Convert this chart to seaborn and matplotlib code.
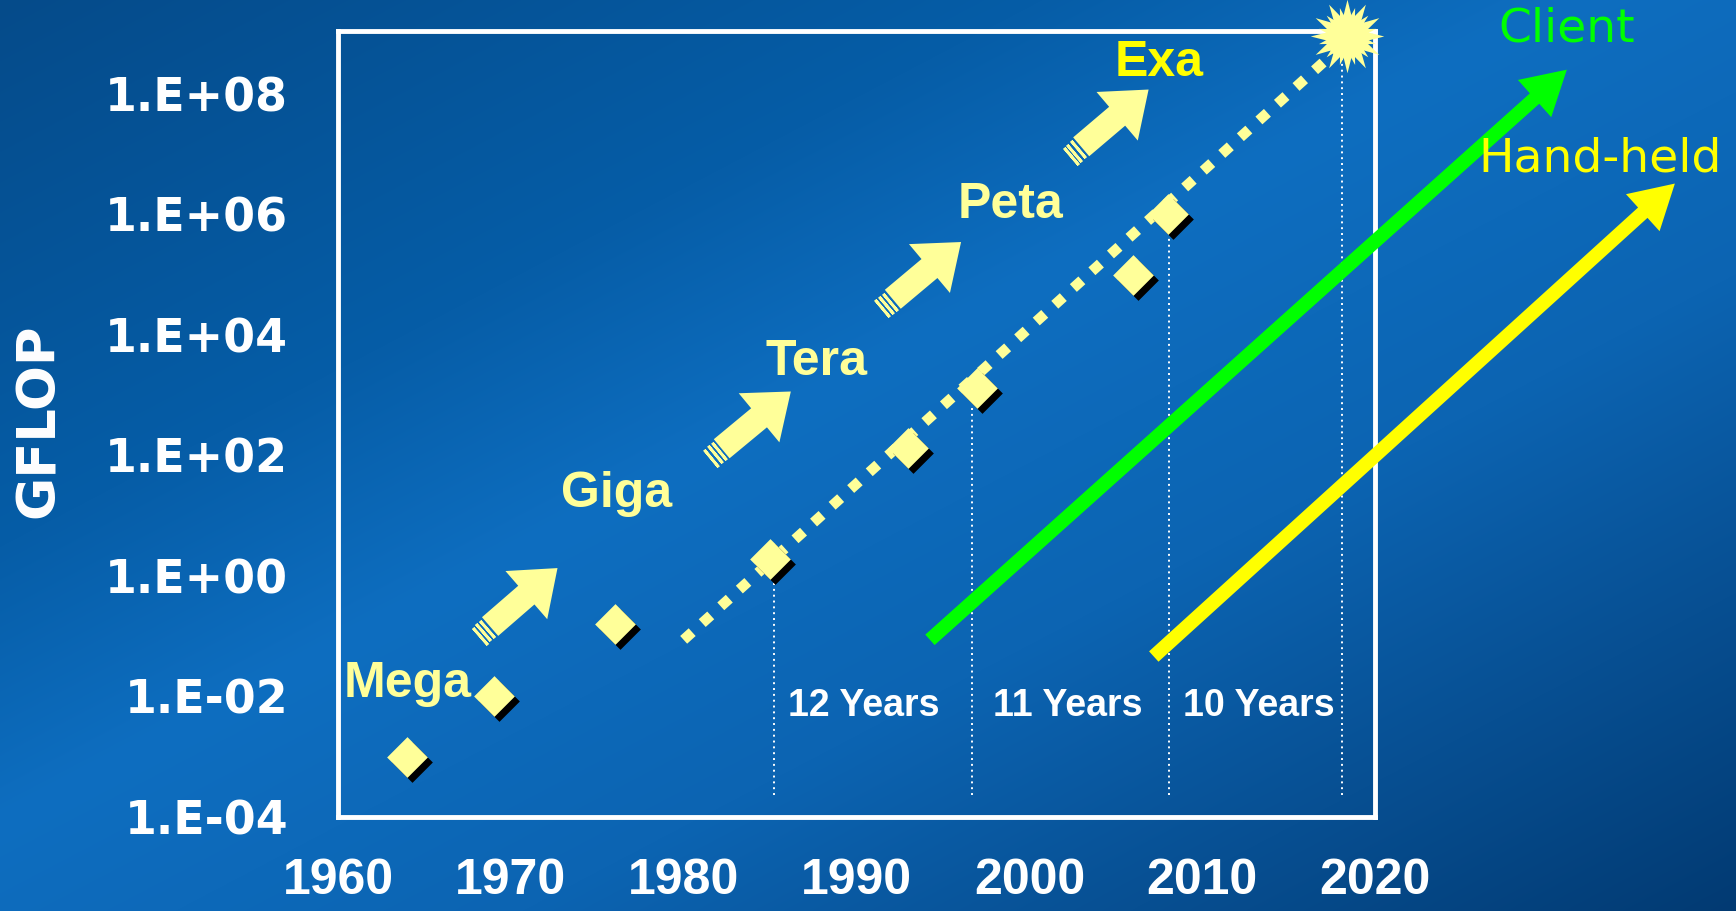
import numpy as np
import matplotlib
matplotlib.use('Agg')
import matplotlib.pyplot as plt
import matplotlib.transforms as mtransforms
import seaborn as sns

# data
years = [1964, 1969, 1976, 1985, 1993, 1997, 2006, 2008]
gflop = [1e-3, 1e-2, 0.16, 1.9, 135, 1300, 1e5, 1e6]

star_year = [2018.4]
star_gflop = [9e8]

trend_years = [1980.0, 2018.0]
trend_gflop = [0.087, 6e8]

era_names = ['Mega', 'Giga', 'Tera', 'Peta', 'Exa']
era_x = [1964.0, 1976.1, 1987.7, 1998.9, 2007.5]
era_y = [0.016, 23.0, 3600, 1.4e6, 3.2e8]
era_colors = ['#FFFF99', '#FFFF99', '#FFFF99', '#FFFF99', '#FFFF00']

# fat arrows between the era names (tail -> tip)
fat_x0 = [1968.8, 1982.2, 1992.1, 2003.0]
fat_y0 = [10**-0.84, 10**2.11, 10**4.59, 10**7.12]
fat_x1 = [1972.7, 1986.2, 1996.05, 2006.9]
fat_y1 = [10**0.13, 10**3.06, 10**5.54, 10**8.07]

gap_years = [1985.2, 1996.7, 2008.1, 2018.1]
gap_tops = [10**0.09, 10**2.84, 10**5.78, 10**8.72]
gap_bottom = 10**-3.63
gap_labels = ['12 Years', '11 Years', '10 Years']
gap_label_x = [1990.4, 2002.2, 2013.3]
gap_label_y = 10**-2.15

client_line = ([1994.25, 2031.1], [0.087, 10**8.40])
handheld_line = ([2007.2, 2037.35], [0.046, 10**6.51])

xticks = [1960, 1970, 1980, 1990, 2000, 2010, 2020]
yticks = [1e-4, 1e-2, 1e0, 1e2, 1e4, 1e6, 1e8]
ytick_labels = ['1.E-04', '1.E-02', '1.E+00', '1.E+02', '1.E+04', '1.E+06', '1.E+08']

sns.set_style('white')
plt.rcParams['font.family'] = ['DejaVu Sans']

fig = plt.figure(figsize=(17.36, 9.11), dpi=100)

# background gradient
bg = fig.add_axes([0, 0, 1, 1], zorder=-10)
h, w = 911, 1736
yy, xx = np.mgrid[0:h, 0:w]
t = (xx / w + yy / h) / 2
stops = [0.0, 0.30, 0.45, 0.65, 1.0]
cols = np.array([[0x05, 0x4B, 0x8A], [0x06, 0x5D, 0xA7], [0x0E, 0x6E, 0xC0],
                 [0x0C, 0x64, 0xB2], [0x02, 0x3A, 0x72]]) / 255
img = np.dstack([np.interp(t, stops, cols[:, i]) for i in range(3)])
bg.imshow(img, aspect='auto', interpolation='bilinear')
bg.axis('off')

ax = fig.add_axes([338 / 1736, 1 - 817 / 911, (1375 - 338) / 1736, (817 - 31) / 911])
ax.patch.set_alpha(0)
ax.set_yscale('log')
ax.set_xlim(1960, 2020)
ax.set_ylim(1e-4, 1.1e9)
ax.minorticks_off()

for s in ax.spines.values():
    s.set_color('white')
    s.set_linewidth(3.5)

ax.set_xticks(xticks)
ax.set_xticklabels([str(x) for x in xticks], family='Liberation Sans', fontweight='bold',
                   fontsize=36, color='white')
ax.set_yticks(yticks)
ax.set_yticklabels(ytick_labels, family='DejaVu Sans', fontweight='bold', fontsize=33,
                   color='white')
ax.tick_params(axis='x', direction='out', length=9.5, width=2.4, color='white', pad=20)
ax.tick_params(axis='y', direction='out', length=13, width=2.4, color='white', pad=23)
ax.set_xlabel('')
ax.set_ylabel('')
fig.text(39 / 1736, 1 - 421 / 911, 'GFLOP', rotation=90, ha='center', va='center',
         fontsize=38, fontweight='bold', color='white', family='DejaVu Sans')

# vertical dotted gap markers
ax.vlines(gap_years, gap_bottom, gap_tops, colors='white', linestyles=(0, (1, 2)),
          linewidth=1.4, zorder=2)
for lx, lab in zip(gap_label_x, gap_labels):
    ax.text(lx, gap_label_y, lab, ha='center', va='center', fontsize=27,
            fontweight='bold', color='white', family='Liberation Sans')

# dotted trend line
sns.lineplot(x=trend_years, y=trend_gflop, ax=ax, color='#FFFF99', linewidth=7.5,
             linestyle=(0, (1.1, 1.3)), zorder=3)
for ln in ax.lines:
    ln.set_dash_capstyle('butt')

# diamonds with drop shadow
shadow = mtransforms.offset_copy(ax.transData, fig=fig, x=5, y=-5, units='dots')
ax.scatter(years, gflop, marker='D', s=430, color='black', linewidths=0,
           transform=shadow, zorder=4)
sns.scatterplot(x=years, y=gflop, ax=ax, marker='D', s=430, color='#FFFF99',
                linewidth=0, zorder=5)

# burst
ax.scatter(star_year, star_gflop, marker=(12, 1, 0), s=2800, color='#FFFF99',
           linewidths=0, zorder=6, clip_on=False)
ax.scatter(star_year, star_gflop, marker=(12, 1, 15), s=1800, color='#FFFF99',
           linewidths=0, zorder=6, clip_on=False)

# era labels
for name, x, y, c in zip(era_names, era_x, era_y, era_colors):
    ax.text(x, y, name, ha='center', va='center', fontsize=36, fontweight='bold',
            color=c, family='Liberation Sans')

# fat arrows with striped tails
for x0, y0, x1, y1 in zip(fat_x0, fat_y0, fat_x1, fat_y1):
    ax.annotate('', xy=(x1, y1), xytext=(x0, y0), annotation_clip=False,
                arrowprops=dict(arrowstyle='simple,head_length=1.1,head_width=1.7,tail_width=0.66',
                                color='#FFFF99', lw=0, mutation_scale=27,
                                shrinkA=0, shrinkB=0))
    p0 = ax.transData.transform((x0, y0))
    p1 = ax.transData.transform((x1, y1))
    u = (p1 - p0) / np.hypot(*(p1 - p0))
    ang = np.degrees(np.arctan2(u[1], u[0]))
    for k in (4, 9, 14):
        tr = mtransforms.offset_copy(ax.transData, fig=fig, x=-u[0] * k, y=-u[1] * k,
                                     units='dots')
        ax.plot([x0], [y0], marker=(2, 2, ang), markersize=16, markeredgewidth=2,
                markeredgecolor='#FFFF99', transform=tr, zorder=4)

# client / hand-held arrows
for (xs, ys), c in zip([client_line, handheld_line], ['#00FF00', '#FFFF00']):
    ax.annotate('', xy=(xs[1], ys[1]), xytext=(xs[0], ys[0]), annotation_clip=False,
                arrowprops=dict(arrowstyle='simple,head_length=1.3,head_width=1.5,tail_width=0.42',
                                color=c, lw=0, mutation_scale=24,
                                shrinkA=0, shrinkB=0))

ax.text(2031.1, 10**9.08, 'Client', ha='center', va='center', fontsize=34,
        color='#00FF00', family='DejaVu Sans')
ax.text(2033.0, 10**6.92, 'Hand-held', ha='center', va='center', fontsize=34,
        color='#FFFF00', family='DejaVu Sans')

fig.savefig('out.png', dpi=100)
